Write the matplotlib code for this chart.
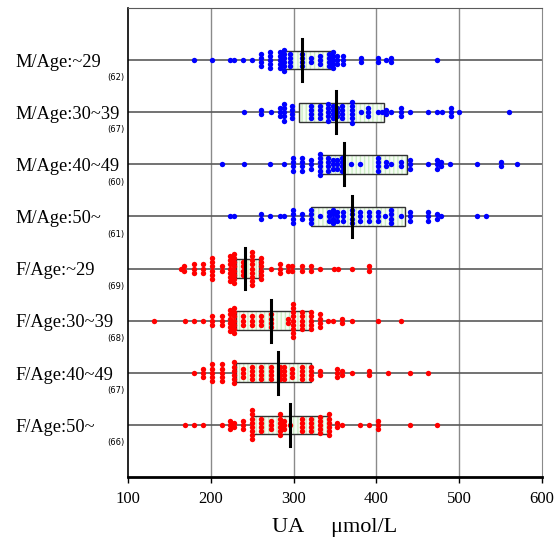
import numpy as np
import matplotlib.pyplot as plt
import matplotlib.transforms as mtransforms
from matplotlib.patches import Rectangle

groups = ["M/Age:~29", "M/Age:30~39", "M/Age:40~49", "M/Age:50~",
          "F/Age:~29", "F/Age:30~39", "F/Age:40~49", "F/Age:50~"]
group_n = [62, 67, 60, 61, 69, 68, 67, 66]

# UA values (umol/L) and how many dots are stacked at each value
m29_vals = [180, 202, 223, 228, 239, 250, 261, 272, 283, 288, 296, 310, 321, 332,
            343, 348, 353, 360, 381, 402, 412, 418, 473]
m29_cnts = [1, 1, 1, 1, 1, 1, 4, 5, 5, 6, 4, 4, 2, 3, 4, 5, 3, 3, 2, 2, 1, 2, 1]

m30_vals = [240, 261, 273, 283, 288, 298, 321, 332, 342, 348, 353, 359, 370, 381,
            390, 402, 407, 412, 418, 430, 441, 462, 473, 479, 490, 500, 560]
m30_cnts = [1, 2, 1, 3, 5, 4, 4, 4, 5, 4, 3, 4, 6, 1, 3, 1, 1, 2, 1, 3, 1, 1, 1,
            1, 3, 1, 1]

m40_vals = [213, 240, 272, 288, 299, 310, 321, 332, 342, 347, 353, 358, 369, 380,
            402, 412, 418, 430, 441, 462, 473, 478, 489, 522, 550, 570]
m40_cnts = [1, 1, 1, 1, 4, 4, 3, 6, 4, 3, 3, 4, 1, 1, 4, 2, 1, 2, 3, 1, 3, 2, 1,
            1, 2, 1]

m50_vals = [223, 228, 261, 272, 283, 288, 299, 310, 321, 332, 343, 348, 353, 360,
            370, 380, 391, 402, 410, 418, 430, 441, 462, 473, 478, 521, 532]
m50_cnts = [1, 1, 2, 1, 1, 1, 4, 2, 4, 1, 3, 4, 3, 3, 4, 3, 3, 3, 1, 4, 1, 3, 3,
            2, 1, 1, 1]

f29_vals = [164, 168, 180, 191, 202, 213, 223, 228, 239, 250, 261, 273, 283, 293,
            298, 310, 321, 332, 349, 354, 370, 391]
f29_cnts = [1, 2, 3, 3, 6, 2, 7, 8, 4, 9, 6, 1, 3, 2, 2, 2, 2, 1, 1, 1, 1, 2]

f30_vals = [131, 169, 180, 191, 202, 213, 223, 228, 239, 250, 261, 273, 293, 299,
            310, 321, 332, 342, 348, 359, 370, 402, 430]
f30_cnts = [1, 1, 1, 1, 3, 3, 6, 7, 3, 3, 3, 4, 2, 9, 5, 5, 4, 1, 1, 2, 1, 1, 1]

f40_vals = [180, 191, 202, 213, 228, 239, 250, 261, 273, 283, 289, 298, 310, 321,
            332, 353, 358, 370, 391, 414, 441, 462]
f40_cnts = [1, 3, 5, 5, 6, 3, 4, 4, 4, 4, 4, 3, 4, 4, 2, 3, 2, 1, 2, 1, 1, 1]

f50_vals = [169, 180, 191, 213, 223, 228, 239, 250, 261, 273, 283, 288, 296, 310,
            321, 332, 343, 353, 358, 380, 391, 402, 441, 473]
f50_cnts = [1, 1, 1, 1, 3, 2, 3, 8, 4, 3, 6, 3, 1, 4, 4, 5, 6, 2, 1, 1, 1, 3, 1, 1]

# box: 25th percentile, median, 75th percentile
q1 = [285, 306, 333, 321, 231, 231, 231, 250]
med = [310, 351, 361, 371, 241, 273, 281, 296]
q3 = [347, 409, 437, 434, 258, 320, 321, 342]

all_vals = [m29_vals, m30_vals, m40_vals, m50_vals, f29_vals, f30_vals, f40_vals, f50_vals]
all_cnts = [m29_cnts, m30_cnts, m40_cnts, m50_cnts, f29_cnts, f30_cnts, f40_cnts, f50_cnts]
colors = ["#0000ff"] * 4 + ["#ff0000"] * 4

serif = "Liberation Serif"
plt.rcParams["hatch.linewidth"] = 1.0

fig = plt.figure(figsize=(5.55, 5.37), dpi=100)
ax = fig.add_axes([128 / 555, 1 - 477 / 537, 414 / 555, 469 / 537])
ax.set_xlim(100, 600)
ax.set_ylim(9, 0)

# vertical grid and horizontal group lines
for gx in [200, 300, 400, 500]:
    ax.axvline(gx, color="#8a8a8a", lw=1.0, zorder=0)
for i in range(len(groups)):
    ax.axhline(i + 1, color="#5a5a5a", lw=1.2, zorder=1)

step = 0.08
for i in range(len(groups)):
    y = i + 1
    # box
    ax.add_patch(Rectangle((q1[i], y - 0.18), q3[i] - q1[i], 0.36,
                           facecolor="#f6fcf4", edgecolor="#cdeec6", hatch="||||",
                           lw=0, zorder=2))
    ax.add_patch(Rectangle((q1[i], y - 0.18), q3[i] - q1[i], 0.36,
                           facecolor="none", edgecolor="#333333", lw=1.0, zorder=2))
    # stacked dots
    xs, ys = [], []
    for v, c in zip(all_vals[i], all_cnts[i]):
        offs = (np.arange(c) - (c - 1) / 2) * step
        xs.extend([v] * c)
        ys.extend(y + offs)
    ax.scatter(xs, ys, s=15, color=colors[i], linewidths=0, zorder=3)
    # median
    ax.plot([med[i], med[i]], [y - 0.4, y + 0.4], color="black", lw=2.2, zorder=4)

# labels at left
trans = mtransforms.blended_transform_factory(fig.transFigure, ax.transData)
for i, name in enumerate(groups):
    ax.text(15 / 555, i + 1 + 0.13, name, transform=trans, ha="left", va="baseline",
            fontsize=13.2, family=serif, clip_on=False)
    ax.text(124 / 555, i + 1 + 0.34, "({})".format(group_n[i]), transform=trans,
            ha="right", va="center", fontsize=6, family="DejaVu Sans", clip_on=False)

ax.set_yticks([])
ax.set_xticks([100, 200, 300, 400, 500, 600])
ax.tick_params(axis="x", direction="out", length=4, width=1, pad=6, labelsize=12)
for lab in ax.get_xticklabels():
    lab.set_family(serif)

ax.spines["bottom"].set_linewidth(2)
ax.spines["bottom"].set_color("black")
ax.spines["left"].set_linewidth(1.2)
ax.spines["left"].set_color("black")
ax.spines["top"].set_color("#5a5a5a")
ax.spines["right"].set_color("#8a8a8a")

ax.set_xlabel("UA     \u03bcmol/L", fontsize=16, family=serif, labelpad=8)

fig.savefig("out.png", dpi=100)
